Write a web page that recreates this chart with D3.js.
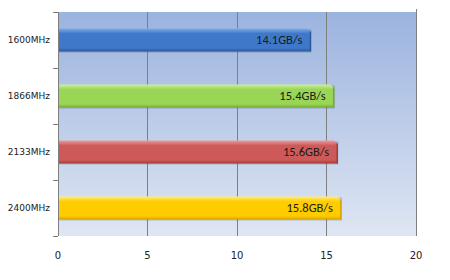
<!DOCTYPE html>
<html>
<head>
<meta charset="utf-8">
<script src="https://cdn.jsdelivr.net/npm/d3@7"></script>
<style>
body{margin:0;background:#fff;}
</style>
</head>
<body>
<div id="chart"></div>
<script>
(function(){
"use strict"

var categories = ["1600MHz","1866MHz","2133MHz","2400MHz"],
	values = [14.1, 15.4, 15.6, 15.8],
	valueLabels = ["14.1GB/s","15.4GB/s","15.6GB/s","15.8GB/s"],
	xTicks = [0,5,10,15,20];

// top, mid, bottom shades for each bar
var barColors = [
	["#80ace6","#3f78c9","#2b5a9c"],
	["#cdf097","#9ad656","#73ad33"],
	["#ec9c9c","#cd5a58","#a13c3a"],
	["#fff07a","#ffcc00","#d9a300"]
];

var width = 450, height = 280,
	margin = {top:12, right:34, bottom:44, left:58},
	w = width - margin.left - margin.right,
	h = height - margin.top - margin.bottom;

var svg = d3.select('#chart').append('svg')
	.attr('width',width)
	.attr('height',height)
	.style('font-family','Verdana, "DejaVu Sans", sans-serif');

var defs = svg.append('defs');
var bg = defs.append('linearGradient').attr('id','bg')
	.attr('x1',0).attr('y1',0).attr('x2',0).attr('y2',1);
bg.append('stop').attr('offset','0%').attr('stop-color','#9bb3df');
bg.append('stop').attr('offset','100%').attr('stop-color','#dfe6f3');

barColors.forEach(function(c,i){
	var gr = defs.append('linearGradient').attr('id','bar'+i)
		.attr('x1',0).attr('y1',0).attr('x2',0).attr('y2',1);
	gr.append('stop').attr('offset','0%').attr('stop-color',c[0]);
	gr.append('stop').attr('offset','22%').attr('stop-color',c[1]);
	gr.append('stop').attr('offset','85%').attr('stop-color',c[1]);
	gr.append('stop').attr('offset','100%').attr('stop-color',c[2]);
});

var x = d3.scaleLinear().domain([0,20]).range([0,w]);
var y = d3.scaleBand().domain(categories).range([0,h]).paddingInner(0.59).paddingOuter(0.295);
var yb = d3.scaleBand().domain(categories).range([0,h]);

var g = svg.append('g').attr('transform','translate('+margin.left+','+margin.top+')');

g.append('rect').attr('width',w).attr('height',h).attr('fill','url(#bg)');

// gridlines
g.selectAll('.grid').data(xTicks.slice(1)).enter().append('line')
	.attr('x1',function(d){return x(d);}).attr('x2',function(d){return x(d);})
	.attr('y1',function(d){return d===20 ? -3 : 0;}).attr('y2',h)
	.attr('stroke','#7f7f7f').attr('stroke-width',1)
	.attr('shape-rendering','crispEdges');

// bars
var bars = g.selectAll('.bar').data(values).enter().append('g');
bars.append('rect')
	.attr('x',0).attr('y',function(d,i){return y(categories[i])+1;})
	.attr('width',function(d){return x(d)+1;})
	.attr('height',y.bandwidth())
	.attr('fill','rgba(0,0,0,0.18)');
bars.append('path')
	.attr('d',function(d,i){
		var x1 = x(d), y0 = y(categories[i]), y1 = y0+y.bandwidth();
		return 'M0,'+y0+'L'+(x1-3)+','+y0+'L'+x1+','+(y0+3)+'L'+x1+','+y1+'L0,'+y1+'Z';
	})
	.attr('fill',function(d,i){return 'url(#bar'+i+')';});
bars.append('line')
	.attr('x1',function(d){return x(d);}).attr('x2',function(d){return x(d);})
	.attr('y1',function(d,i){return y(categories[i])+3;})
	.attr('y2',function(d,i){return y(categories[i])+y.bandwidth();})
	.attr('stroke',function(d,i){return barColors[i][2];}).attr('stroke-width',1.5);

bars.append('text')
	.attr('x',function(d){return x(d)-8;})
	.attr('y',function(d,i){return y(categories[i])+y.bandwidth()/2+1;})
	.attr('text-anchor','end').attr('dominant-baseline','middle')
	.attr('fill','#1a1a1a')
	.attr('font-family','Carlito, "Liberation Sans", sans-serif')
	.style('font-size','12.5px')
	.text(function(d,i){return valueLabels[i];});

// left axis
g.append('line').attr('x1',0).attr('x2',0).attr('y1',0).attr('y2',h)
	.attr('stroke','#7f7f7f').attr('shape-rendering','crispEdges');
g.selectAll('.ytick').data(d3.range(categories.length+1)).enter().append('line')
	.attr('x1',-5).attr('x2',0)
	.attr('y1',function(d){return d*yb.step();}).attr('y2',function(d){return d*yb.step();})
	.attr('stroke','#7f7f7f').attr('shape-rendering','crispEdges');

g.selectAll('.ylab').data(categories).enter().append('text')
	.attr('x',-8).attr('y',function(d){return yb(d)+yb.bandwidth()/2;})
	.attr('text-anchor','end').attr('dominant-baseline','middle')
	.attr('font-size',9).attr('fill','#222')
	.text(function(d){return d;});

g.selectAll('.xlab').data(xTicks).enter().append('text')
	.attr('x',function(d){return x(d);}).attr('y',h+20)
	.attr('text-anchor','middle').attr('dominant-baseline','middle')
	.attr('font-size',10).attr('fill','#222')
	.text(function(d){return d;});

})();
</script>
</body>
</html>
